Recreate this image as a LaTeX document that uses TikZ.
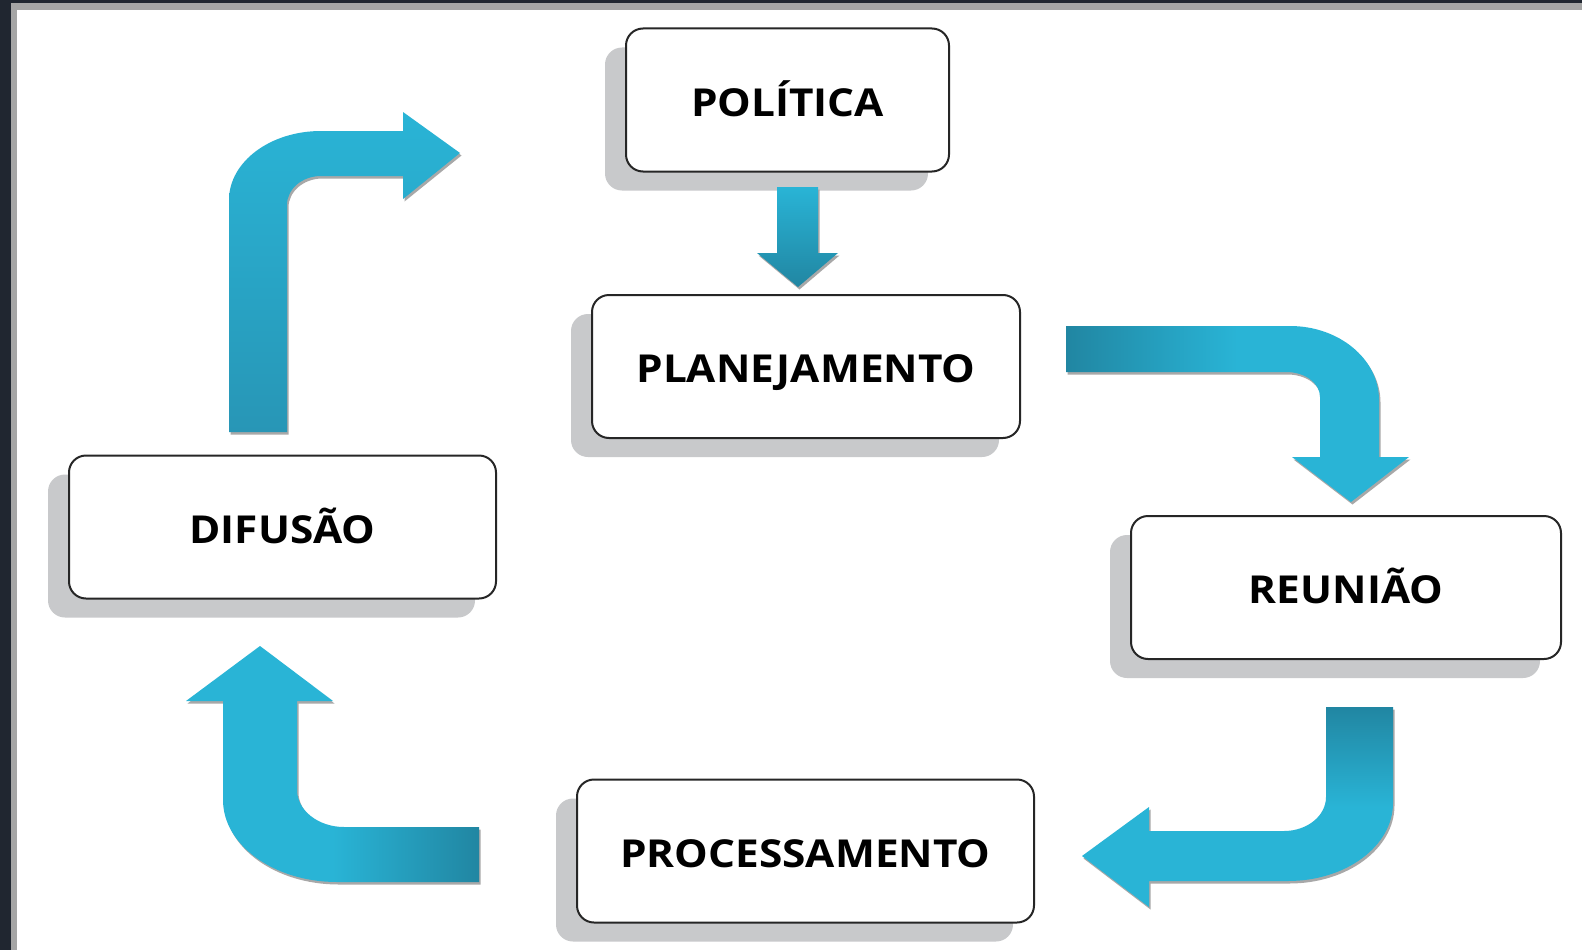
\documentclass[tikz,border=0pt]{standalone}
\usepackage{fontspec}
\newfontfamily\stagefont{Open Sans}[FakeStretch=1.1]
\usepackage{tikz}
\usetikzlibrary{shadows}
\definecolor{framedark}{RGB}{32,38,48}
\definecolor{framegray}{RGB}{165,165,165}
\definecolor{shadowgray}{RGB}{200,201,203}
\definecolor{arrowlight}{RGB}{41,180,214}
\definecolor{arrowmid}{RGB}{40,150,182}
\definecolor{arrowdark}{RGB}{33,134,162}
\definecolor{arrowshade}{RGB}{168,168,168}
\tikzset{
    stage/.style={
        draw=black!85, line width=2pt, fill=white, rounded corners=17pt,
        minimum width=#1, minimum height=143pt, inner sep=0pt,
        text height=32.5pt, text depth=0pt,
        font=\stagefont\fontsize{38.5}{42}\selectfont\bfseries,
        drop shadow={shadow xshift=-21pt, shadow yshift=-19pt,
            fill=shadowgray, opacity=1}
    },
    stage/.default=428pt
}
\newcommand{\bentarrow}[2] {
	\fill[arrowshade, shift={(1.5,2.5)}] #2;
	\shade[#1] #2;
}

\begin{document}
\begin{tikzpicture}[x=1pt,y=-1pt]
		\useasboundingbox (0,0) rectangle (1582,950);
		\fill[white] (0,0) rectangle (1582,950);

		% Frame
		\fill[framedark] (0,0) rectangle (11,950);
		\fill[framedark] (0,0) rectangle (1582,3.5);
		\fill[framegray] (11,3.5) rectangle (17,950);
		\fill[framegray] (11,3.5) rectangle (1582,10);

		% Stages
		\node[stage=323pt] (politica) at (787.5,100) {POLÍTICA};
		\node[stage=428pt] (planejamento) at (806,366.5) {PLANEJAMENTO};
		\node[stage=430pt] (reuniao) at (1346,587.5) {REUNIÃO};
		\node[stage=457pt] (processamento) at (805.5,851) {PROCESSAMENTO};
		\node[stage=427pt] (difusao) at (282.5,527) {DIFUSÃO};

		% Arrows
		\bentarrow{top color=arrowlight, bottom color=arrowdark}
			{(777,187) -- (818,187) -- (818,253) -- (838,253) -- (798,287) -- (757,253) -- (777,253) -- cycle}
		\bentarrow{left color=arrowdark, right color=arrowlight, middle color=arrowlight}
			{(1066,326) -- (1290,326) .. controls (1339,326) and (1379,359) .. (1379,400) -- (1379,457) -- (1409,457) -- (1351,502) -- (1292,457) -- (1320,457) -- (1320,397) .. controls (1320,383) and (1305,372) .. (1286,372) -- (1066,372) -- cycle}
		\bentarrow{top color=arrowdark, bottom color=arrowlight, middle color=arrowlight}
			{(1326,707) -- (1393,707) -- (1393,803) .. controls (1393,846) and (1346,881) .. (1288,881) -- (1149,881) -- (1149,907) -- (1082,856) -- (1149,807) -- (1149,831) -- (1284,831) .. controls (1307,831) and (1326,816) .. (1326,797) -- cycle}
		\bentarrow{left color=arrowlight, right color=arrowdark, middle color=arrowlight}
			{(479,827) -- (344,827) .. controls (318,827) and (297,810) .. (297,790) -- (297,701) -- (333,701) -- (260,646) -- (186,701) -- (223,701) -- (223,800) .. controls (223,845) and (274,882) .. (337,882) -- (479,882) -- cycle}
		\bentarrow{top color=arrowlight, bottom color=arrowmid}
			{(229,432) -- (229,200) .. controls (229,162) and (270,131) .. (321,131) -- (403,131) -- (403,112) -- (460,153) -- (403,199) -- (403,176) -- (321,176) .. controls (302,176) and (287,189) .. (287,205) -- (287,432) -- cycle}

	\end{tikzpicture}
\end{document}
